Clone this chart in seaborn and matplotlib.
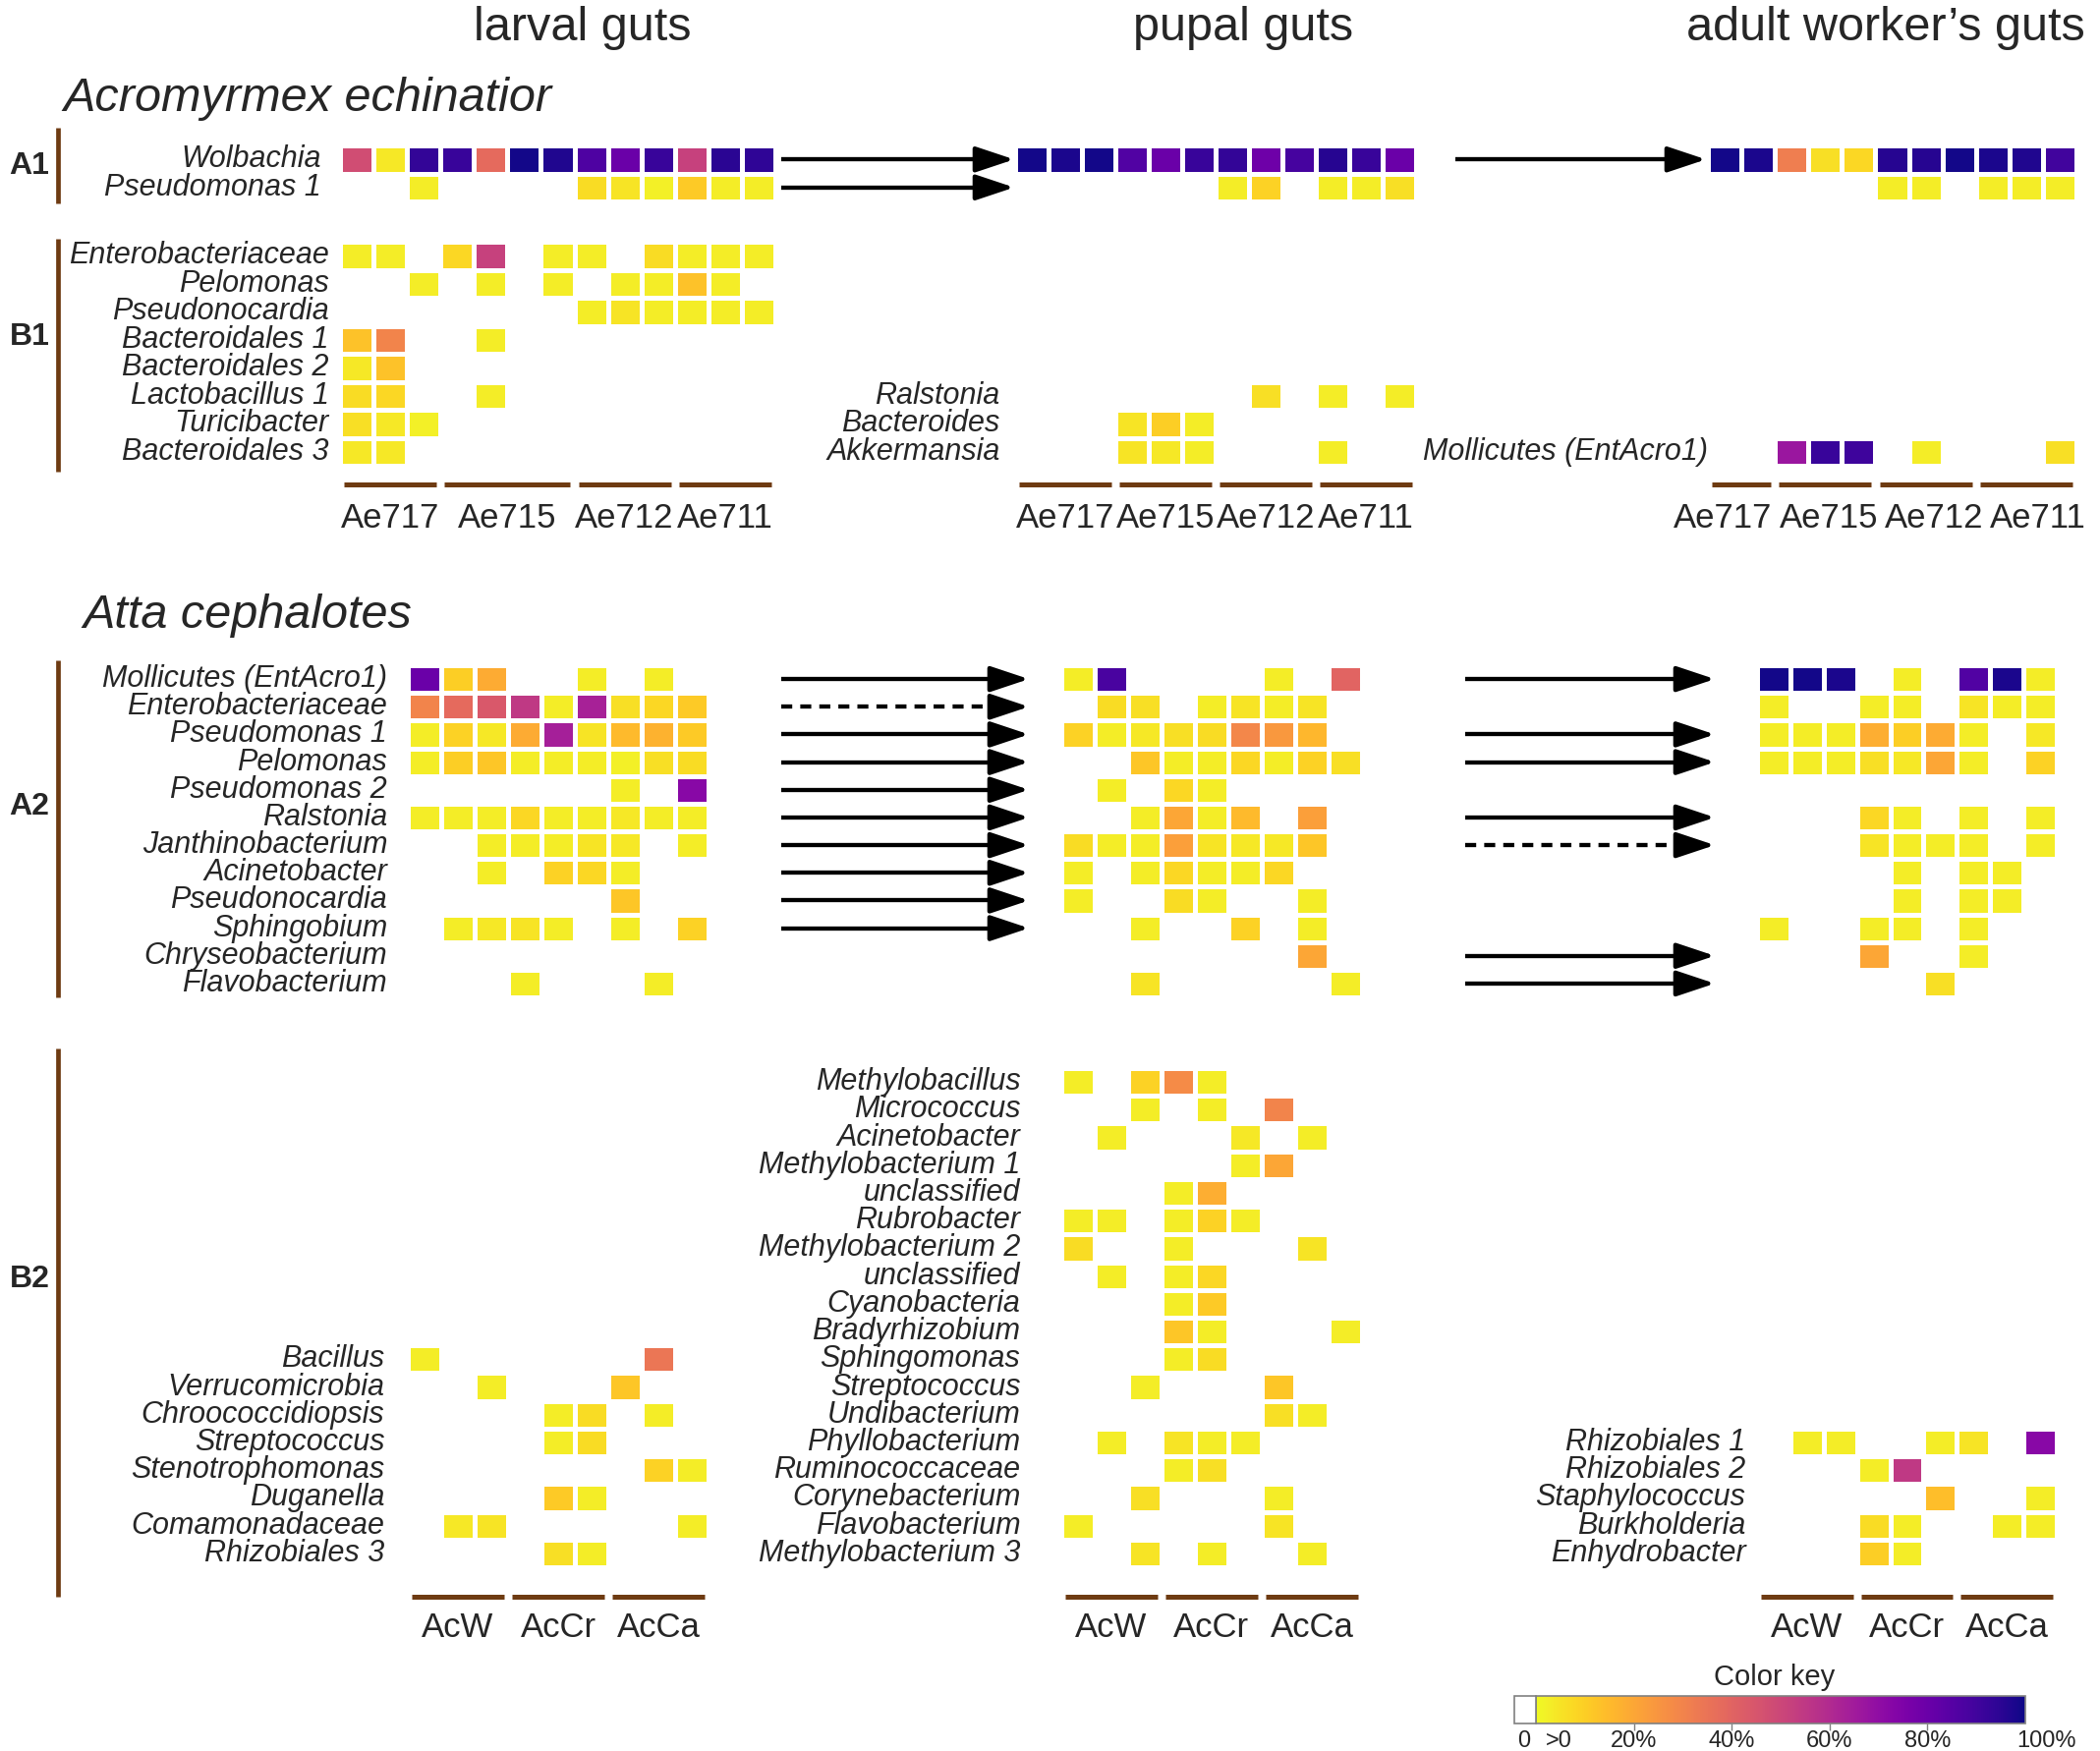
"""
Relative abundance heatmaps of gut bacteria in larval, pupal and adult
worker guts of Acromyrmex echinatior and Atta cephalotes.
"""

import numpy as np
import matplotlib
matplotlib.use("Agg")
import matplotlib.pyplot as plt
import matplotlib.transforms as mtransforms
from matplotlib.patches import Rectangle
import seaborn as sns

W, H = 2137, 1782
BROWN = "#6e3b12"
CMAP = "plasma_r"
_ = None  # empty cell (0 %)

# ---------------------------------------------------------------- data ---
stages = ["larval guts", "pupal guts", "adult worker\u2019s guts"]

acro_groups = ["Ae717", "Ae715", "Ae712", "Ae711"]
acro_larval_sizes = [3, 4, 3, 3]
acro_pupal_sizes = [3, 3, 3, 3]
acro_adult_sizes = [2, 3, 3, 3]

atta_groups = ["AcW", "AcCr", "AcCa"]
atta_sizes = [3, 3, 3]

a1_rows = ["Wolbachia", "Pseudomonas 1"]
a1_larval = [
    [48, 4, 93, 92, 38, 99, 97, 87, 80, 92, 52, 95, 94],
    [_, _, 3, _, _, _, _, 7, 5, 2, 11, 3, 3],
]
a1_pupal = [
    [99, 98, 99, 86, 80, 92, 93, 79, 89, 96, 92, 80],
    [_, _, _, _, _, _, 3, 9, _, 3, 3, 6],
]
a1_adult = [
    [99, 98, 32, 6, 8, 96, 96, 99, 98, 97, 90],
    [_, _, _, _, _, 3, 3, _, 3, 3, 3],
]

b1_larval_rows = ["Enterobacteriaceae", "Pelomonas", "Pseudonocardia",
                  "Bacteroidales 1", "Bacteroidales 2", "Lactobacillus 1",
                  "Turicibacter", "Bacteroidales 3"]
b1_larval = [
    [3, 3, _, 8, 52, _, 3, 3, _, 7, 3, 3, 3],
    [_, _, 3, _, 3, _, 3, _, 3, 3, 13, 3, _],
    [_, _, _, _, _, _, _, 3, 5, 3, 3, 3, 3],
    [13, 30, _, _, 3, _, _, _, _, _, _, _, _],
    [4, 13, _, _, _, _, _, _, _, _, _, _, _],
    [7, 8, _, _, 3, _, _, _, _, _, _, _, _],
    [6, 4, 2, _, _, _, _, _, _, _, _, _, _],
    [4, 4, _, _, _, _, _, _, _, _, _, _, _],
]
b1_pupal_rows = ["Ralstonia", "Bacteroides", "Akkermansia"]
b1_pupal = [
    [_, _, _, _, _, _, _, 6, _, 3, _, 3],
    [_, _, _, 5, 10, 3, _, _, _, _, _, _],
    [_, _, _, 5, 4, 3, _, _, _, 3, _, _],
]
b1_adult_rows = ["Mollicutes (EntAcro1)"]
b1_adult = [
    [_, _, 67, 92, 91, _, 3, _, _, _, 6],
]

a2_rows = ["Mollicutes (EntAcro1)", "Enterobacteriaceae", "Pseudomonas 1",
           "Pelomonas", "Pseudomonas 2", "Ralstonia", "Janthinobacterium",
           "Acinetobacter", "Pseudonocardia", "Sphingobium",
           "Chryseobacterium", "Flavobacterium"]
a2_larval = [
    [80, 10, 19, _, _, 3, _, 3, _],
    [30, 38, 44, 55, 3, 63, 6, 8, 11],
    [3, 9, 4, 19, 64, 5, 15, 17, 11],
    [3, 10, 12, 3, 3, 3, 2, 6, 7],
    [_, _, _, _, _, _, 3, _, 72],
    [3, 3, 3, 8, 3, 3, 4, 3, 3],
    [_, _, 3, 3, 3, 5, 4, _, 3],
    [_, _, 3, _, 9, 8, 3, _, _],
    [_, _, _, _, _, _, 12, _, _],
    [_, 3, 4, 5, 3, _, 3, _, 9],
    [_, _, _, _, _, _, _, _, _],
    [_, _, _, 3, _, _, _, 3, _],
]
a2_pupal = [
    [3, 88, _, _, _, _, 3, _, 40],
    [_, 7, 6, _, 3, 5, 3, 5, _],
    [9, 3, 4, 6, 7, 29, 24, 16, _],
    [_, _, 12, 3, 3, 8, 3, 9, 6],
    [_, 3, _, 8, 3, _, _, _, _],
    [_, _, 3, 20, 3, 15, _, 22, _],
    [7, 3, 3, 22, 5, 4, 4, 12, _],
    [3, _, 3, 8, 3, 3, 8, _, _],
    [3, _, _, 7, 3, _, _, 3, _],
    [_, _, 3, _, _, 9, _, 3, _],
    [_, _, _, _, _, _, _, 20, _],
    [_, _, 5, _, _, _, _, _, 3],
]
a2_adult = [
    [99, 99, 98, _, 3, _, 86, 98, 3],
    [3, _, _, 3, 3, _, 5, 3, 3],
    [3, 3, 3, 18, 10, 19, 3, _, 4],
    [3, 3, 3, 6, 4, 20, 3, _, 9],
    [_, _, _, _, _, _, _, _, _],
    [_, _, _, 8, 3, _, 3, _, 3],
    [_, _, _, 5, 3, 3, 3, _, 3],
    [_, _, _, _, 3, _, 3, 3, _],
    [_, _, _, _, 3, _, 3, 3, _],
    [3, _, _, 3, 3, _, 3, _, _],
    [_, _, _, 20, _, _, 3, _, _],
    [_, _, _, _, _, 6, _, _, _],
]

b2_larval_rows = ["Bacillus", "Verrucomicrobia", "Chroococcidiopsis",
                  "Streptococcus", "Stenotrophomonas", "Duganella",
                  "Comamonadaceae", "Rhizobiales 3"]
b2_larval = [
    [3, _, _, _, _, _, _, 34, _],
    [_, _, 3, _, _, _, 12, _, _],
    [_, _, _, _, 3, 7, _, 3, _],
    [_, _, _, _, 3, 7, _, _, _],
    [_, _, _, _, _, _, _, 9, 3],
    [_, _, _, _, 11, 3, _, _, _],
    [_, 4, 5, _, _, _, _, _, 3],
    [_, _, _, _, 6, 3, _, _, _],
]
b2_pupal_rows = ["Methylobacillus", "Micrococcus", "Acinetobacter",
                 "Methylobacterium 1", "unclassified", "Rubrobacter",
                 "Methylobacterium 2", "unclassified", "Cyanobacteria",
                 "Bradyrhizobium", "Sphingomonas", "Streptococcus",
                 "Undibacterium", "Phyllobacterium", "Ruminococcaceae",
                 "Corynebacterium", "Flavobacterium", "Methylobacterium 3"]
b2_pupal = [
    [3, _, 9, 28, 3, _, _, _, _],
    [_, _, 3, _, 3, _, 30, _, _],
    [_, 3, _, _, _, 4, _, 3, _],
    [_, _, _, _, _, 3, 20, _, _],
    [_, _, _, 3, 18, _, _, _, _],
    [3, 3, _, 3, 9, 3, _, _, _],
    [7, _, _, 3, _, _, _, 5, _],
    [_, 3, _, 3, 8, _, _, _, _],
    [_, _, _, 3, 11, _, _, _, _],
    [_, _, _, 12, 3, _, _, _, 3],
    [_, _, _, 3, 7, _, _, _, _],
    [_, _, 3, _, _, _, 12, _, _],
    [_, _, _, _, _, _, 6, 3, _],
    [_, 3, _, 5, 3, 3, _, _, _],
    [_, _, _, 3, 6, _, _, _, _],
    [_, _, 6, _, _, _, 3, _, _],
    [3, _, _, _, _, _, 5, _, _],
    [_, _, 5, _, 3, _, _, 3, _],
]
b2_adult_rows = ["Rhizobiales 1", "Rhizobiales 2", "Staphylococcus",
                 "Burkholderia", "Enhydrobacter"]
b2_adult = [
    [_, 3, 3, _, _, 3, 5, _, 72],
    [_, _, _, 3, 55, _, _, _, _],
    [_, _, _, _, _, 14, _, _, 3],
    [_, _, _, 7, 3, _, _, 3, 3],
    [_, _, _, 10, 3, _, _, _, _],
]

# arrows: (row index in the larval panel, line style)
acro_arrows_lp = [(0, "solid"), (1, "solid")]
acro_arrows_pa = [(0, "solid")]
atta_arrows_lp = [(0, "solid"), (1, "dashed"), (2, "solid"), (3, "solid"),
                  (4, "solid"), (5, "solid"), (6, "solid"), (7, "solid"),
                  (8, "solid"), (9, "solid")]
atta_arrows_pa = [(0, "solid"), (2, "solid"), (3, "solid"), (5, "solid"),
                  (6, "dashed"), (10, "solid"), (11, "solid")]

key_ticks = [20, 40, 60, 80]
key_labels = ["20%", "40%", "60%", "80%"]

# --------------------------------------------------------------- setup ---
sns.set_style("white")
plt.rcParams["font.family"] = ["Liberation Sans", "DejaVu Sans"]

fig = plt.figure(figsize=(W / 100, H / 100), dpi=100)
ov = fig.add_axes([0, 0, 1, 1])
ov.set_xlim(0, W)
ov.set_ylim(H, 0)
ov.axis("off")
ov.patch.set_visible(False)
ov.set_zorder(10)


def px_box(left, top, right, bottom):
    return [left / W, 1 - bottom / H, (right - left) / W, (bottom - top) / H]


def panel(box, values, labels=None, n_rows=None, pad=8, cbar_ax=None):
    data = np.array(values, dtype=float)
    if n_rows is not None and n_rows > len(data):
        n_pad = n_rows - len(data)
        data = np.vstack([np.full((n_pad, data.shape[1]), np.nan), data])
        if labels is not None:
            labels = [""] * n_pad + list(labels)
    ax = fig.add_axes(px_box(*box))
    sns.heatmap(data, ax=ax, cmap=CMAP, vmin=0, vmax=100,
                linewidths=2.5, linecolor="white",
                cbar=cbar_ax is not None, cbar_ax=cbar_ax,
                cbar_kws={"orientation": "horizontal", "ticks": key_ticks},
                xticklabels=False,
                yticklabels=labels if labels is not None else False)
    ax.tick_params(axis="y", length=0, pad=pad)
    for t in ax.get_yticklabels():
        t.set_rotation(0)
        t.set_fontstyle("italic")
        t.set_fontsize(22)
    return ax


def group_bars(ax, names, sizes, y_bar, y_text, shifts=None):
    trans = mtransforms.blended_transform_factory(ax.transData, ov.transData)
    shifts = shifts or [0] * len(names)
    start = 0
    for name, n, dx in zip(names, sizes, shifts):
        ov.plot([start + 0.12, start + n - 0.12], [y_bar, y_bar],
                transform=trans, color=BROWN, lw=3.6,
                solid_capstyle="butt", clip_on=False)
        t_trans = mtransforms.offset_copy(trans, fig=fig, x=dx, y=0,
                                          units="dots")
        ov.text(start + n / 2, y_text, name, transform=t_trans, ha="center",
                va="baseline", fontsize=25)
        start += n


def arrows(ax, rows, x0, x1):
    trans = mtransforms.blended_transform_factory(ov.transData, ax.transData)
    for r, style in rows:
        ls = "-" if style == "solid" else (0, (2.6, 1.9))
        ov.plot([x0, x1 - 28], [r + 0.5, r + 0.5], transform=trans,
                color="black", lw=3.1, ls=ls, solid_capstyle="butt",
                dash_capstyle="butt")
        ov.annotate("", xy=(x1, r + 0.5), xytext=(x1 - 35, r + 0.5),
                    xycoords=(ov.transData, ax.transData),
                    textcoords=(ov.transData, ax.transData),
                    annotation_clip=False,
                    arrowprops=dict(arrowstyle="-|>,head_length=1.2,head_width=0.4",
                                    mutation_scale=20, color="black", lw=3.1,
                                    shrinkA=0, shrinkB=0))


# ------------------------------------------------------------- panels ---
# Acromyrmex echinatior
ax_a1l = panel((346, 148, 789, 205), a1_larval, a1_rows, pad=14)
ax_a1p = panel((1033, 148, 1441, 205), a1_pupal)
ax_a1a = panel((1738, 148, 2113, 205), a1_adult)
ax_b1l = panel((346, 246, 789, 474), b1_larval, b1_larval_rows, pad=8)
ax_b1p = panel((1033, 246, 1441, 474), b1_pupal, b1_pupal_rows, n_rows=8, pad=11)
ax_b1a = panel((1738, 246, 2113, 474), b1_adult, b1_adult_rows, n_rows=8, pad=0)

# Atta cephalotes
ax_a2l = panel((415, 677, 721, 1015), a2_larval, a2_rows, pad=15)
ax_a2p = panel((1080, 677, 1386, 1015), a2_pupal)
ax_a2a = panel((1788, 677, 2093, 1015), a2_adult)
ax_b2l = panel((415, 1087, 721, 1595), b2_larval, b2_larval_rows, n_rows=18, pad=17)
ax_b2p = panel((1080, 1087, 1386, 1595), b2_pupal, b2_pupal_rows, pad=30)
cax = fig.add_axes(px_box(1563, 1726, 2061, 1754))
ax_b2a = panel((1788, 1087, 2093, 1595), b2_adult, b2_adult_rows, n_rows=18,
               pad=8.5, cbar_ax=cax)

# sample groups under each column block
group_bars(ax_b1l, acro_groups, acro_larval_sizes, 493, 537)
group_bars(ax_b1p, acro_groups, acro_pupal_sizes, 493, 537)
group_bars(ax_b1a, acro_groups, acro_adult_sizes, 493, 537,
           shifts=[-19, 4, 9, 12])
for ax in (ax_b2l, ax_b2p, ax_b2a):
    group_bars(ax, atta_groups, atta_sizes, 1625, 1666)

# transmission arrows
arrows(ax_a1l, acro_arrows_lp, 795, 1032)
arrows(ax_a1l, acro_arrows_pa, 1481, 1736)
arrows(ax_a2l, atta_arrows_lp, 795, 1047)
arrows(ax_a2l, atta_arrows_pa, 1491, 1745)

# ---------------------------------------------------------- decorations ---
for x, label in zip([593, 1265, 1919], stages):
    ov.text(x, 41, label, ha="center", va="baseline", fontsize=35)
ov.text(64, 113, "Acromyrmex echinatior", ha="left", va="baseline",
        fontsize=35, fontstyle="italic")
ov.text(84, 639, "Atta cephalotes", ha="left", va="baseline",
        fontsize=35, fontstyle="italic")

for name, y0, y1, y_lab in [("A1", 130, 207, 169), ("B1", 243, 480, 343),
                            ("A2", 672, 1015, 821), ("B2", 1067, 1625, 1302)]:
    ov.plot([59, 59], [y0, y1], color=BROWN, lw=3.4, solid_capstyle="butt")
    ov.text(30, y_lab, name, ha="center", va="center", fontsize=23,
            fontweight="bold")

# colour key
cbar = ax_b2a.collections[0].colorbar
cbar.outline.set_edgecolor("#808080")
cbar.outline.set_linewidth(1.2)
cax.tick_params(axis="x", length=5, width=1, color="#808080",
                labelbottom=False, bottom=True)
ov.add_patch(Rectangle((1541, 1726), 22, 28, facecolor="white",
                       edgecolor="#808080", lw=1.2))
ov.text(1806, 1715, "Color key", ha="center", va="baseline", fontsize=21)
key_trans = mtransforms.blended_transform_factory(cax.transData, ov.transData)
for v, lab in zip(key_ticks, key_labels):
    ov.text(v, 1778, lab, transform=key_trans, ha="center", va="baseline",
            fontsize=17)
ov.text(1551, 1778, "0", ha="center", va="baseline", fontsize=17)
ov.text(1586, 1778, ">0", ha="center", va="baseline", fontsize=17)
ov.text(2083, 1778, "100%", ha="center", va="baseline", fontsize=17)

fig.savefig("out.png", dpi=100)
plt.close(fig)
